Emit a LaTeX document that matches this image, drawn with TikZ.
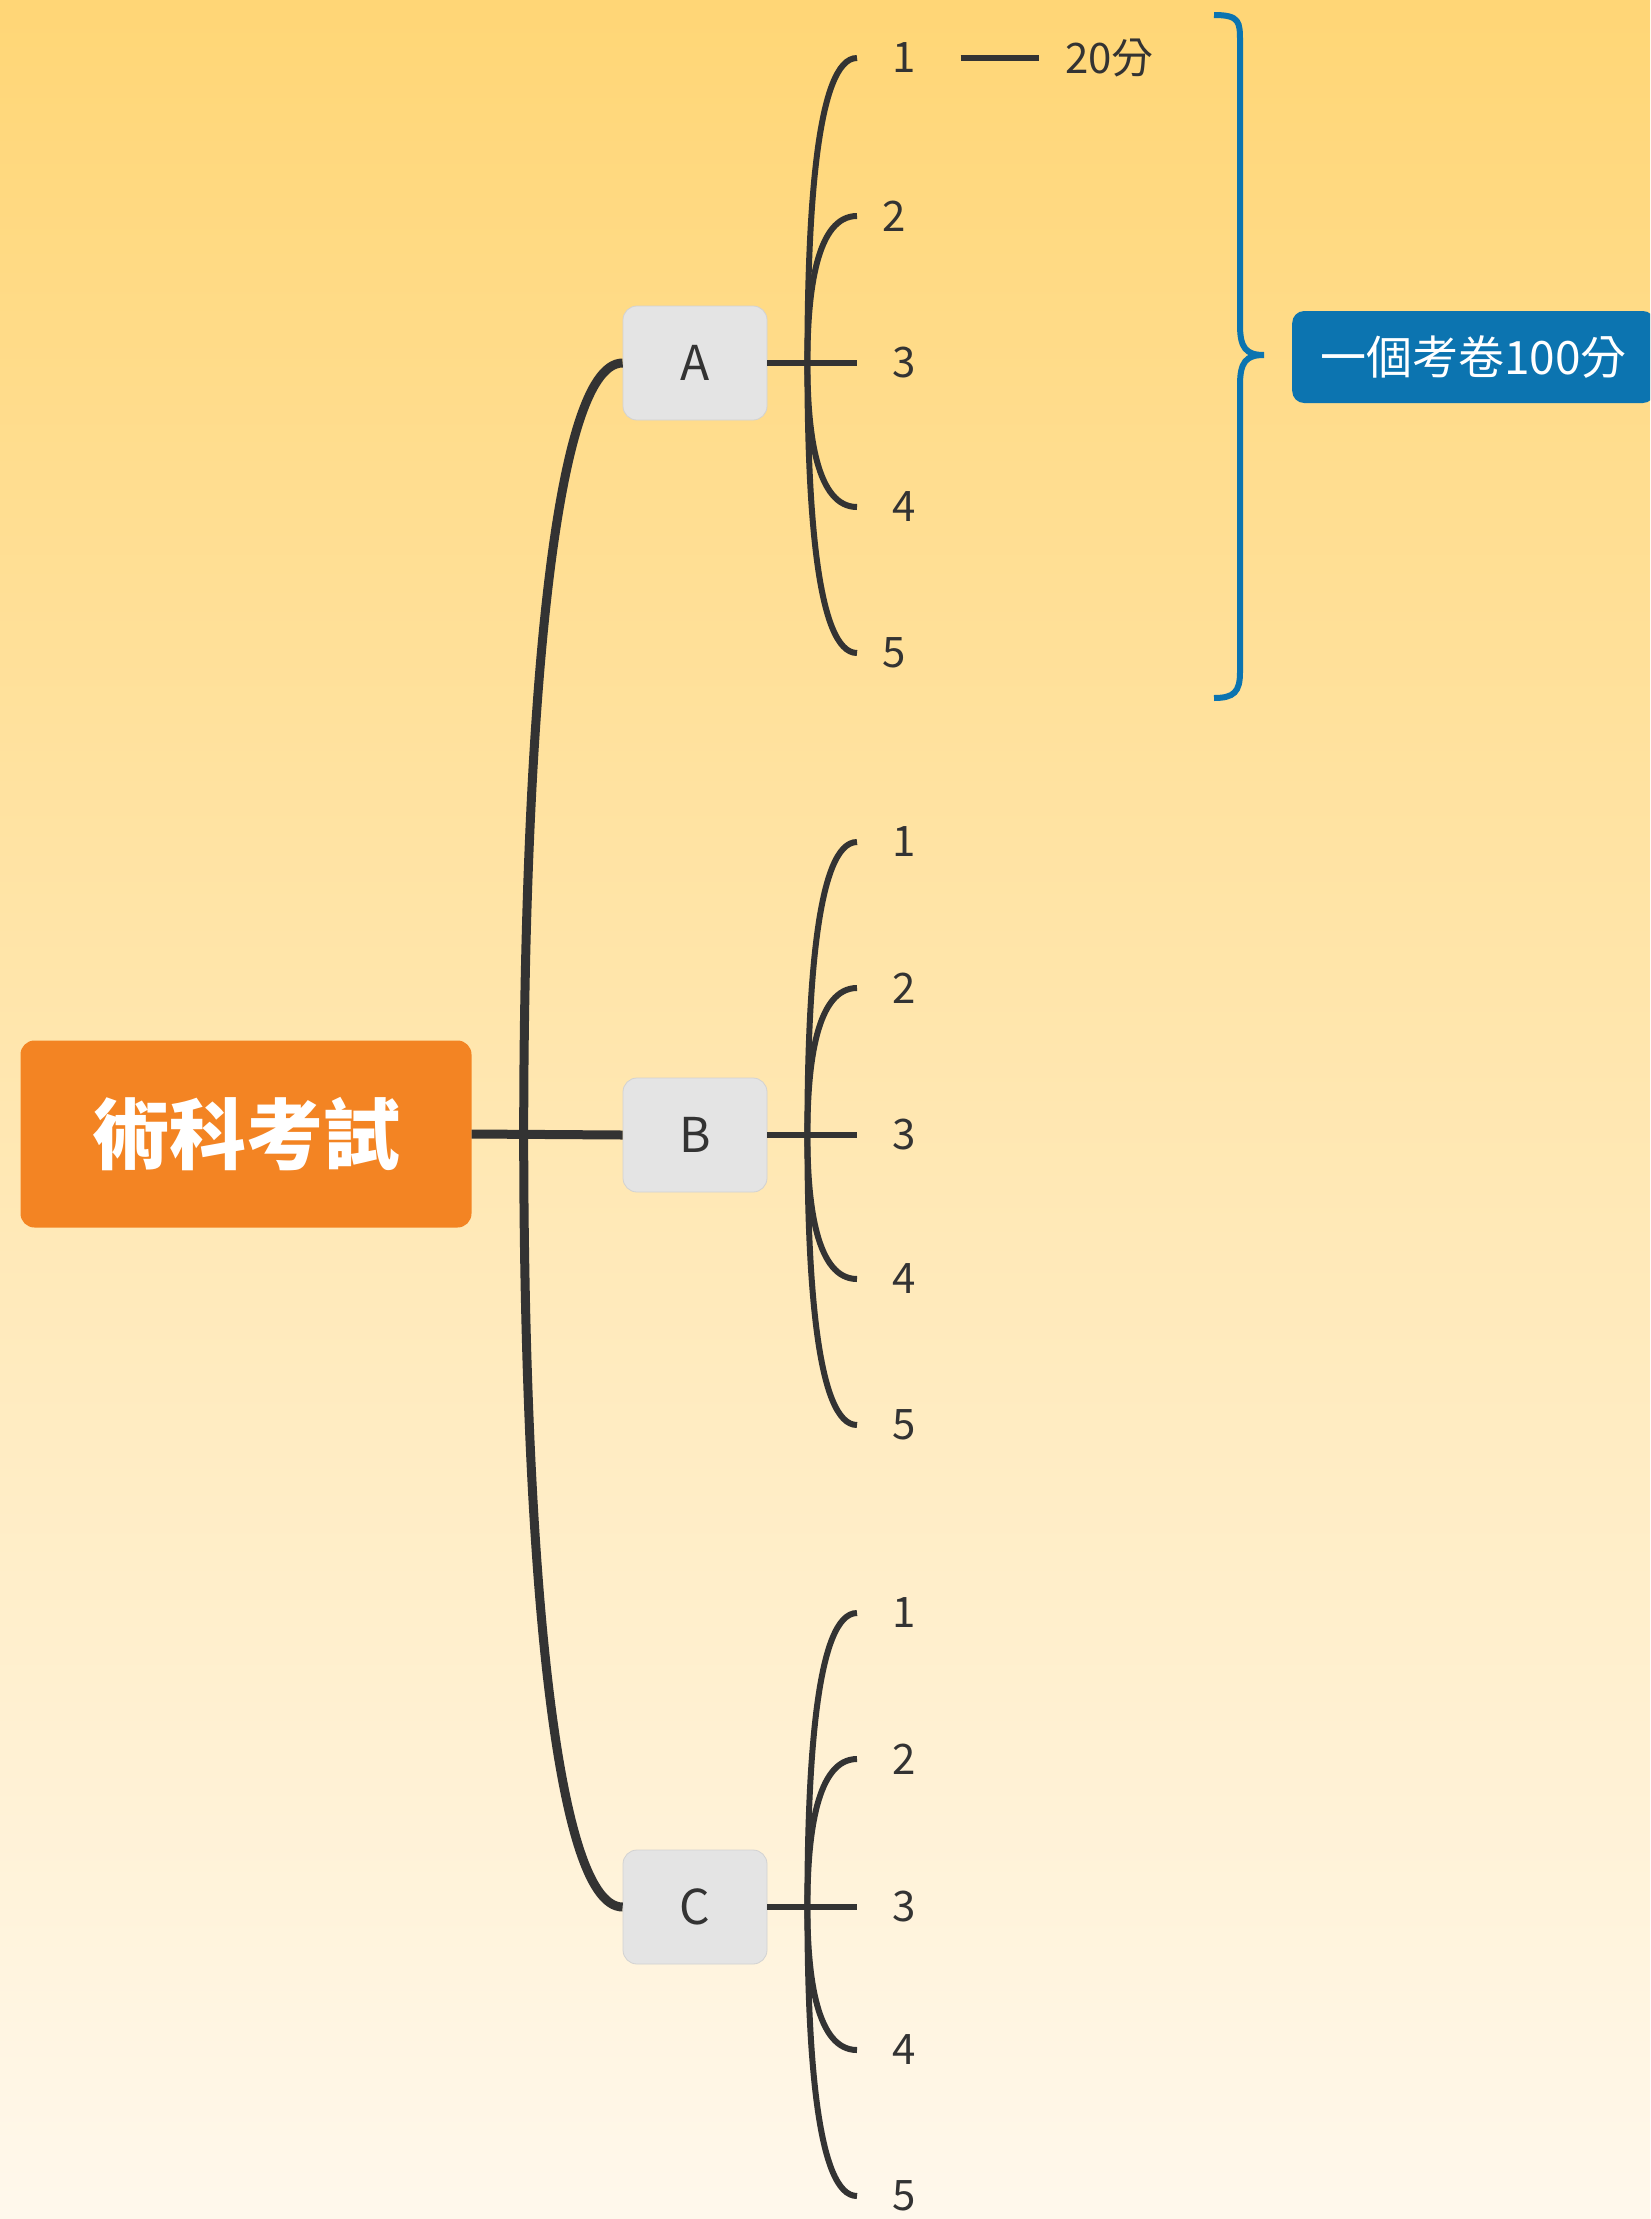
\documentclass[tikz,border=0pt]{standalone}
\usepackage{fontspec}
\setmainfont{Noto Sans CJK TC}
\usetikzlibrary{calc}
\definecolor{bgtop}{HTML}{FFD676}
\definecolor{bgbot}{HTML}{FFF8EC}
\definecolor{lineclr}{HTML}{333333}
\definecolor{rootclr}{HTML}{F38423}
\definecolor{blueclr}{HTML}{0C74B0}
\definecolor{boxclr}{HTML}{E4E4E4}
\begin{document}
\begin{tikzpicture}[x=1pt,y=-1pt,
  rootbox/.style={fill=rootclr, rounded corners=14pt, minimum width=451pt, minimum height=187pt,
    text=white, font=\fontsize{77}{77}\selectfont\bfseries, inner sep=0pt},
  subbox/.style={fill=boxclr, draw=boxclr!92!black, line width=0.8pt, rounded corners=14pt,
    minimum width=144pt, minimum height=114pt, inner sep=0pt, text=lineclr,
    font=\fontsize{48}{48}\selectfont},
  leaf/.style={anchor=west, inner xsep=#1, inner ysep=0pt, text=lineclr,
    font=\fontsize{42}{42}\selectfont},
  leaf/.default=35pt,
  bluebox/.style={fill=blueclr, rounded corners=12pt, minimum height=92pt, inner xsep=28pt,
    inner ysep=0pt, text=white, font=\fontsize{46}{46}\selectfont, anchor=west},
  mainline/.style={draw=lineclr, line width=9pt},
  childline/.style={draw=lineclr, line width=6pt},
  bracestyle/.style={draw=blueclr, line width=6pt},
  branch/.style={to path={.. controls ($(\tikztostart)!0.5!(\tikztostart|-\tikztotarget)$) and ($(\tikztotarget)+(-#1,0)$) .. (\tikztotarget)}}
]
\useasboundingbox (0,0) rectangle (1650,2219);
\clip (0,0) rectangle (1650,2219);
\shade[top color=bgtop, bottom color=bgbot] (0,0) rectangle (1650,2219);

% nodes
\node[rootbox] (root) at (246,1134) {術科考試};
\node[subbox] (A) at (695,363) {A};
\node[subbox] (B) at (695,1135) {B};
\node[subbox] (C) at (695,1907) {C};

\coordinate (rj) at ($(root.east)+(52,0)$);
\coordinate (Aj) at ($(A.east)+(40,0)$);
\coordinate (Bj) at ($(B.east)+(40,0)$);
\coordinate (Cj) at ($(C.east)+(40,0)$);

\node[leaf] (A1) at (857,58) {1};
\node[leaf=25pt] (A2) at (857,216) {2};
\node[leaf] (A3) at (857,363) {3};
\node[leaf] (A4) at (857,507) {4};
\node[leaf=25pt] (A5) at (857,653) {5};

\node[leaf] (B1) at (857,842) {1};
\node[leaf] (B2) at (857,988) {2};
\node[leaf] (B3) at (857,1135) {3};
\node[leaf] (B4) at (857,1279) {4};
\node[leaf] (B5) at (857,1425) {5};

\node[leaf] (C1) at (857,1613) {1};
\node[leaf] (C2) at (857,1759) {2};
\node[leaf] (C3) at (857,1907) {3};
\node[leaf] (C4) at (857,2050) {4};
\node[leaf] (C5) at (857,2196) {5};

\node[leaf=26pt] (s20) at (1039,58) {20分};
\node[bluebox] (total) at (1292,357) {一個考卷100分};

% connectors
\draw[mainline] (root.east) -- (B.west);
\draw[mainline] (rj) to[branch=72] (A.west);
\draw[mainline] (rj) to[branch=72] (C.west);

\foreach \p in {A,B,C} {
  \draw[childline] (\p.east) -- (\p3.west);
  \draw[childline] (\p j) to[branch=40] (\p1.west);
  \draw[childline] (\p j) to[branch=40] (\p2.west);
  \draw[childline] (\p j) to[branch=40] (\p4.west);
  \draw[childline] (\p j) to[branch=40] (\p5.west);
}
\draw[childline] ([xshift=10pt]A1.east) -- (s20.west);

% brace
\coordinate (btop) at (1214,15);
\coordinate (btip) at (1264,355);
\coordinate (bbot) at (1214,698);
\draw[bracestyle] (btop) .. controls (1240,15) and (1240,22) .. (1240,42)
  -- (1240,325) .. controls (1240,348) and (1246,355) .. (btip)
  .. controls (1246,355) and (1240,362) .. (1240,385)
  -- (1240,672) .. controls (1240,692) and (1234,698) .. (bbot);
\end{tikzpicture}
\end{document}
